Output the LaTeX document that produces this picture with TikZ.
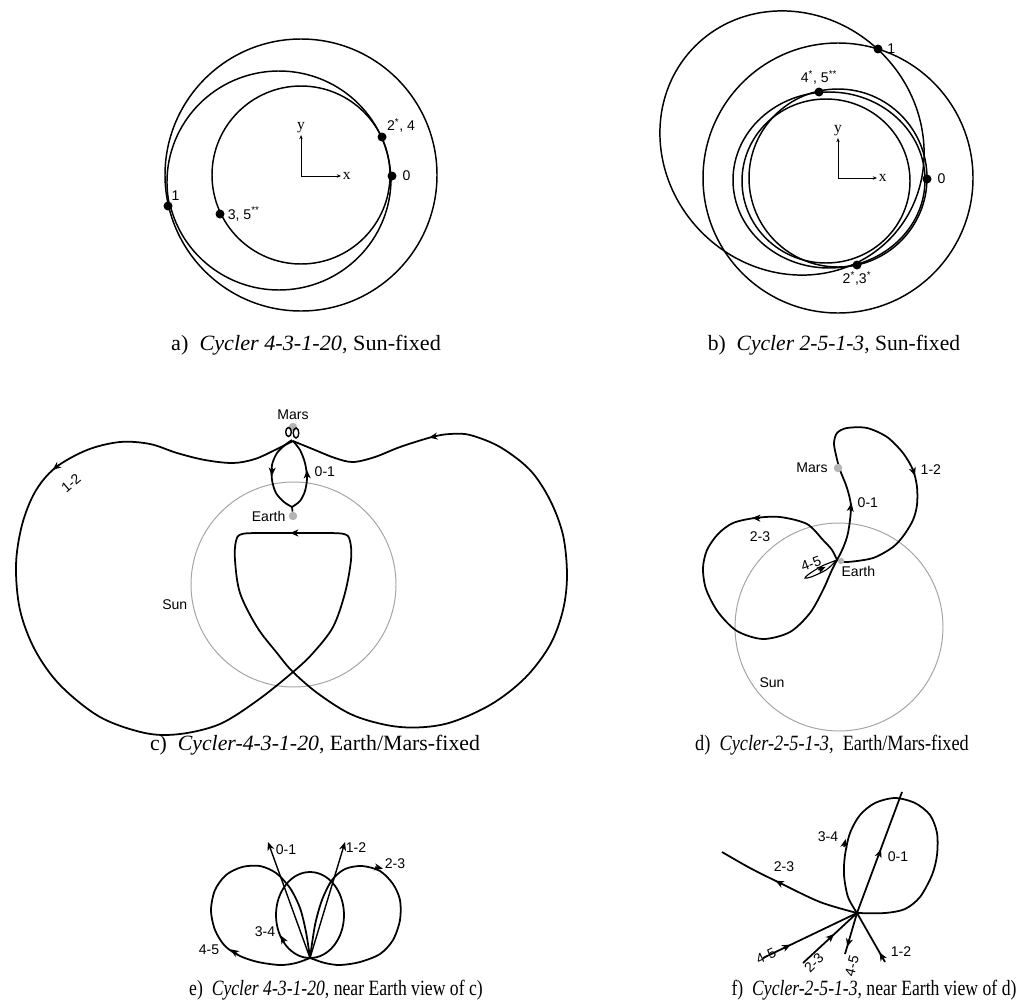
\documentclass[tikz,border=0pt]{standalone}
\usepackage{fontspec}
\setmainfont{Liberation Serif}
\setsansfont{Liberation Sans}
\usepackage{tikz}
\usetikzlibrary{positioning,arrows.meta}
\definecolor{sungrey}{HTML}{A4A4A4}
\definecolor{planetgrey}{HTML}{B4B4B4}

\begin{document}
\begin{tikzpicture}[x=0.25mm, y=-0.25mm,
    orbit/.style={line width=1.05pt, black},
    traj/.style={line width=1.25pt, black},
    sunorb/.style={line width=0.7pt, sungrey},
    waypt/.style={circle, fill=black, inner sep=0pt, minimum size=6.4pt},
    planet/.style={circle, fill=planetgrey, inner sep=0pt, minimum size=6pt},
    lbl/.style={font=\sffamily\fontsize{10}{12}\selectfont, inner sep=1pt},
    axlbl/.style={font=\fontsize{11}{12}\selectfont, inner sep=1pt},
    axis/.style={line width=0.7pt, -{Stealth[length=3pt, width=2.4pt]}},
    flowtip/.style={line width=1pt, -{Stealth[length=6pt, width=5pt, inset=1.8pt]}},
    capt/.style={font=\fontsize{15.5}{18}\selectfont}]
\useasboundingbox (0,0) rectangle (1026,1005);

% a) Sun-fixed, cycler 4-3-1-20
\coordinate (sunA) at (301,175);
\draw[orbit] (sunA) circle[radius=136];
\draw[orbit] (sunA) circle[radius=89];
\draw[orbit] (279,182) ++(168:112 and 111) arc[start angle=168, end angle=360, x radius=112, y radius=111];
\draw[orbit] (279,179) ++(0:112 and 111) arc[start angle=0, end angle=166, x radius=112, y radius=111];

\coordinate (origA) at (301,176);
\draw[axis] (origA) -- ++(0,-41) node[axlbl, above] (yA) {y};
\draw[axis] (origA) -- ++(40,0) node[axlbl, right] (xA) {x};

\node[waypt] (a0) at (392,176) {};
\node[waypt] (a1) at (168,206) {};
\node[waypt] (a2) at (382,137) {};
\node[waypt] (a3) at (220,214) {};
\node[lbl, right=3pt of a0] (la0) {0};
\node[lbl, above right=0pt and -1pt of a1] (la1) {1};
\node[lbl, above right=0pt and 0pt of a2] (la2) {2\textsuperscript{*}, 4};
\node[lbl, right=1pt of a3] (la3) {3, 5\textsuperscript{**}};

% b) Sun-fixed, cycler 2-5-1-3
\coordinate (sunB) at (838,178);
\draw[orbit] (sunB) circle[radius=135];
\draw[orbit, rotate around={-45:(792,143)}] (792,143) ellipse[x radius=137, y radius=127];
\draw[orbit] (sunB) circle[radius=89];
\draw[orbit] (829,180) ellipse[x radius=96, y radius=88];
\draw[orbit] (826,181) ellipse[x radius=84, y radius=82];

\coordinate (origB) at (838,178);
\draw[axis] (origB) -- ++(0,-40) node[axlbl, above] (yB) {y};
\draw[axis] (origB) -- ++(39,0) node[axlbl, right] (xB) {x};

\node[waypt] (b0) at (927,179) {};
\node[waypt] (b1) at (878,49) {};
\node[waypt] (b2) at (857,265) {};
\node[waypt] (b4) at (819,92) {};
\node[lbl, right=3pt of b0] (lb0) {0};
\node[lbl, right=2pt of b1] (lb1) {1};
\node[lbl, below=0pt of b2] (lb2) {2\textsuperscript{*},3\textsuperscript{*}};
\node[lbl, above=1pt of b4] (lb4) {4\textsuperscript{*}, 5\textsuperscript{**}};

% c) Earth/Mars-fixed, cycler 4-3-1-20
\draw[sunorb] (293.5,584.5) circle[radius=102.5];
\node[lbl, anchor=east] (sunC) at (189,605) {Sun};

\draw[traj] plot[smooth, tension=0.55] coordinates {
  (293,441) (275,450) (255,459) (233,463) (205,460) (177,453) (150,444) (120,442)
  (87,450) (55,468) (35,492) (22,525) (16,565) (20,610) (35,650) (60,685)
  (100,717) (145,733) (180,734) (220,724) (258,700) (293,672) (313,653) (333,627)
  (345,593) (351,560) (350,541) (344,534) (320,533) (293,533) (265,533) (242,534)
  (236,541) (235,560) (240,593) (257,627) (277,653) (293,672) (320,695) (355,716)
  (400,727) (445,724) (490,705) (525,678) (550,645) (563,610) (567,575) (563,535)
  (550,500) (530,470) (500,447) (470,435) (450,434) (432,437) (400,447) (375,457)
  (353,462) (335,458) (315,450) (293,441)};

\node[planet] (marsC) at (293,427) {};
\node[planet] (earthC) at (293,516) {};
\node[lbl, above=1pt of marsC] (marsClbl) {Mars};
\node[lbl, left=1pt of earthC] (earthClbl) {Earth};

\draw[traj] (earthC) -- (292,507);
\draw[traj] plot[smooth] coordinates {(292,507) (284,502) (276,493) (272,480) (272,465) (277,453) (285,445) (292,440)};
\draw[traj] plot[smooth] coordinates {(292,507) (300,501) (305,491) (307,478) (305,463) (300,450) (293,441)};
\draw[traj, line width=1pt] (288.5,432) ellipse[x radius=2.8, y radius=4.5];
\draw[traj, line width=1pt] (296,433) ellipse[x radius=2.8, y radius=5];

\foreach \x/\y/\a in {55/468/141, 293/533/180, 432/437/170, 272/473/92, 307/473/-92}
  \draw[flowtip] (\x,\y) ++(\a:-5) -- ++(\a:8);

\node[lbl, anchor=west] (l01c) at (313,472) {0-1};
\node[lbl, rotate=40] (l12c) at (71,483) {1-2};

% d) Earth/Mars-fixed, cycler 2-5-1-3
\draw[sunorb] (839,627) circle[radius=104];
\node[lbl] (sunD) at (772,683) {Sun};

\draw[traj] plot[smooth] coordinates {
  (837,560) (843,548) (848,533) (851,507) (847,488) (840,470) (836,455) (834,443)
  (837,433) (847,428) (867,428) (887,437) (903,453) (913,470) (917,487) (917,505)
  (913,520) (904,535) (893,547) (873,558) (847,562) (837,560)};
\draw[traj] plot[smooth] coordinates {
  (837,560) (832,550) (823,540) (807,524) (780,517) (755,518) (733,523) (718,534)
  (707,550) (703,568) (706,589) (718,612) (737,631) (763,639) (790,632) (810,613)
  (823,590) (831,572) (837,560)};
\draw[traj, line width=0.8pt] plot[smooth] coordinates {(837,560) (822,566) (809,574) (805,578) (811,577) (826,570) (837,560)};

\node[planet] (marsD) at (838,468) {};
\node[planet, minimum size=4.5pt] (earthD) at (841,561) {};
\node[lbl, left=3pt of marsD] (marsDlbl) {Mars};
\node[lbl, below right=1pt and -2.5pt of earthD] (earthDlbl) {Earth};

\foreach \x/\y/\a in {851/506/-81, 914/473/72, 755/518/182, 823/568/-25}
  \draw[flowtip] (\x,\y) ++(\a:-5) -- ++(\a:8);

\node[lbl, anchor=west] (l01d) at (856,503) {0-1};
\node[lbl, anchor=west] (l12d) at (919,470) {1-2};
\node[lbl] (l23d) at (760,537) {2-3};
\node[lbl, rotate=20] (l45d) at (811,564) {4-5};

% e) near Earth view of c)
\coordinate (earthE) at (310,958);
\coordinate (e01) at (268,842);
\coordinate (e12) at (345,842);
\draw[traj] plot[smooth] coordinates {
  (310,958) (306,932) (300,908) (290,888) (276,873) (260,866) (242,867) (226,875)
  (215,890) (211,910) (215,930) (225,946) (240,956) (258,962) (280,965) (296,963) (310,958)};
\draw[traj] plot[smooth] coordinates {
  (310,958) (315,925) (322,900) (332,880) (345,869) (362,866) (380,871) (393,884)
  (400,900) (400,920) (393,940) (380,954) (360,962) (340,965) (325,963) (310,958)};
\draw[traj] (310,915) ellipse[x radius=34, y radius=43];
\draw[traj, flowtip] (earthE) -- (e01);
\draw[traj, flowtip] (earthE) -- (e12);

\foreach \x/\y/\a in {380/868/12, 282/938/-119, 233/951/-146}
  \draw[flowtip] (\x,\y) ++(\a:-5) -- ++(\a:8);

\node[lbl] (l01e) at (286,850) {0-1};
\node[lbl] (l12e) at (356,848) {1-2};
\node[lbl] (l23e) at (395,864) {2-3};
\node[lbl] (l34e) at (265,932) {3-4};
\node[lbl] (l45e) at (209,950) {4-5};

% f) near Earth view of d)
\coordinate (earthF) at (857,913);
\coordinate (f01) at (902,792);
\coordinate (f12) at (885,962);
\coordinate (f23) at (722,852);
\coordinate (f45a) at (763,958);
\coordinate (f23b) at (803,963);
\coordinate (f45b) at (845,954);
\draw[traj] plot[smooth] coordinates {
  (857,913) (848,897) (844,875) (845,855) (850,833) (860,815) (875,803) (895,798)
  (915,803) (930,815) (937,833) (937,855) (932,875) (920,897) (905,909) (885,913) (857,913)};
\draw[traj] (earthF) -- (f01);
\draw[traj] (earthF) -- (f12);
\draw[traj] plot[smooth] coordinates {(857,913) (820,902) (778,882) (750,868) (722,852)};
\draw[traj] (earthF) -- (f45a);
\draw[traj] (earthF) -- (f23b);
\draw[traj] (earthF) -- (f45b);

\foreach \x/\y/\a in {880/852/-70, 881/955/-120, 845/842/-78, 778/882/-153, 788/946/-26, 832/936/-43, 848/944/106}
  \draw[flowtip] (\x,\y) ++(\a:-5) -- ++(\a:8);

\node[lbl] (l01f) at (898,857) {0-1};
\node[lbl] (l12f) at (901,952) {1-2};
\node[lbl] (l34f) at (828,837) {3-4};
\node[lbl] (l23f) at (784,867) {2-3};
\node[lbl, rotate=25] (l45fa) at (766,956) {4-5};
\node[lbl, rotate=45] (l23fb) at (814,963) {2-3};
\node[lbl, rotate=75] (l45fb) at (852,966) {4-5};

% Captions
\node[capt, xscale=1.02] (capA) at (306,345) {a)~~\textit{Cycler 4-3-1-20}, Sun-fixed};
\node[capt, xscale=0.99] (capB) at (834,345) {b)~~\textit{Cycler 2-5-1-3}, Sun-fixed};
\node[capt] (capC) at (315,745) {c)~~\textit{Cycler-4-3-1-20}, Earth/Mars-fixed};
\node[capt, xscale=0.84] (capD) at (832,745) {d)~~\textit{Cycler-2-5-1-3,}~~Earth/Mars-fixed};
\node[capt, xscale=0.81] (capE) at (336,990) {e)~~\textit{Cycler 4-3-1-20}, near Earth view of c)};
\node[capt, xscale=0.81] (capF) at (874,990) {f)~~\textit{Cycler-2-5-1-3}, near Earth view of d)};

\end{tikzpicture}
\end{document}
